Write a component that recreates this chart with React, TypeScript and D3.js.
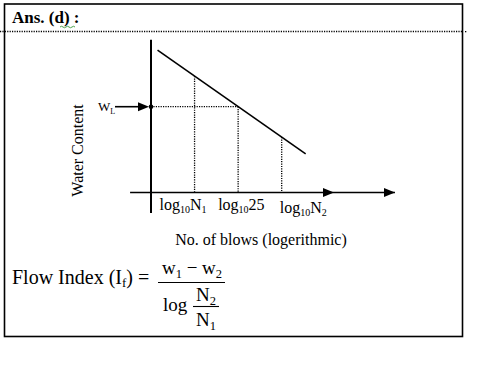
import React from "react";
import * as d3 from "d3";

// positions along the log(N) axis for the three marked blow counts
const tickPositions = [1, 2, 3];
const tickBases = ["N", "25", "N"];
const tickSubs = ["1", "", "2"];

// the flow curve (straight on semi-log paper)
const flowLogN = [0.15, 3.55];
const flowWater = [83, 22.5];

// liquid limit water content (at 25 blows)
const liquidLimit = 50;

// axis extents and arrowheads
const xAxisExtent = [-0.48, 5.6];
const xArrowAt = [4.2, 5.6];
const yAxisExtent = [-12, 89];

const serif = "'Liberation Serif', 'Times New Roman', serif";

export default function App() {
  const x = d3.scaleLinear().domain([0, 3]).range([151, 281.7]);
  const y = d3.scaleLinear().domain([0, liquidLimit]).range([192.5, 106.7]);
  const flow = d3.scaleLinear().domain(flowLogN).range(flowWater);

  const line = d3
    .line<number>()
    .x((d) => x(d))
    .y((d) => y(flow(d)));

  const arrow = (px: number, py: number) =>
    `M${px},${py} L${px - 11},${py - 4.5} L${px - 11},${py + 4.5} Z`;

  // label start offsets relative to each tick
  const labelShift = [-35, -20, -2];
  const labelDrop = [17, 17, 20];

  return (
    <svg
      width={484}
      height={367}
      style={{ position: "absolute", left: 0, top: 0, fontFamily: serif }}
    >
      <rect x={0} y={0} width={484} height={367} fill="#fff" />
      {/* frame */}
      <rect x={4.5} y={4} width={458} height={332.5} fill="none" stroke="#000" strokeWidth={1.6} />
      <line x1={0} x2={463} y1={31.5} y2={31.5} stroke="#000" strokeWidth={1.3} strokeDasharray="1.2,1.2" />
      <rect x={465} y={31} width={1.3} height={1.3} fill="#000" />
      <text x={12} y={23} fontSize={17} fontWeight="bold">Ans. (d) :</text>
      <path d="M60,27 q1.5,-1.5 3,0 t3,0 t3,0 t3,0 t3,0" fill="none" stroke="#3a9a3a" strokeWidth={0.9} />

      {/* axes */}
      <line x1={x(0)} x2={x(0)} y1={y(yAxisExtent[1])} y2={y(yAxisExtent[0])} stroke="#000" strokeWidth={2} />
      <line x1={x(xAxisExtent[0])} x2={x(xAxisExtent[1])} y1={y(0)} y2={y(0)} stroke="#000" strokeWidth={1.6} />
      {xArrowAt.map((a, i) => (
        <path key={i} d={arrow(x(a), y(0))} fill="#000" />
      ))}

      {/* flow line */}
      <path d={line(flowLogN) || ""} fill="none" stroke="#000" strokeWidth={1.6} />

      {/* dotted drops */}
      {tickPositions.map((t, i) => (
        <line
          key={i}
          x1={x(t)}
          x2={x(t)}
          y1={y(flow(t))}
          y2={y(0)}
          stroke="#000"
          strokeWidth={1.3}
          strokeDasharray="1.2,1.2"
        />
      ))}
      <line
        x1={x(0)}
        x2={x(2)}
        y1={y(liquidLimit)}
        y2={y(liquidLimit)}
        stroke="#000"
        strokeWidth={1.3}
        strokeDasharray="1.2,1.2"
      />
      <circle cx={x(0)} cy={y(liquidLimit)} r={2.3} fill="#000" />

      {/* w_L pointer */}
      <line x1={x(0) - 36} x2={x(0) - 10} y1={y(liquidLimit)} y2={y(liquidLimit)} stroke="#000" strokeWidth={1.6} />
      <path d={arrow(x(0) - 2, y(liquidLimit))} fill="#000" />
      <text x={98} y={y(liquidLimit) + 4} fontSize={13}>
        W<tspan fontSize={8} dy={3}>L</tspan>
      </text>

      {/* tick labels */}
      {tickPositions.map((t, i) => (
        <text key={i} x={x(t) + labelShift[i]} y={y(0) + labelDrop[i]} fontSize={16}>
          log<tspan fontSize={10} dy={3}>10</tspan>
          <tspan dy={-3}>{tickBases[i]}</tspan>
          {tickSubs[i] && (
            <tspan fontSize={10} dy={3}>{tickSubs[i]}</tspan>
          )}
        </text>
      ))}

      <text x={261} y={245} fontSize={16} textAnchor="middle">No. of blows (logerithmic)</text>
      <text
        transform={`translate(83,${y(24.5)}) rotate(-90)`}
        fontSize={16}
        textAnchor="middle"
      >
        Water Content
      </text>

      {/* flow index formula */}
      <text x={12} y={284} fontSize={20}>
        Flow Index (I<tspan fontSize={13} dy={3}>f</tspan>
        <tspan dy={-3}>) =</tspan>
      </text>
      <text x={192} y={274} fontSize={19} textAnchor="middle">
        w<tspan fontSize={12.5} dy={4}>1</tspan>
        <tspan dy={-4}> − w</tspan>
        <tspan fontSize={12.5} dy={4}>2</tspan>
      </text>
      <line x1={158} x2={225} y1={282.5} y2={282.5} stroke="#000" strokeWidth={1.1} />
      <text x={163} y={311} fontSize={19}>log</text>
      <text x={206} y={301} fontSize={19} textAnchor="middle">
        N<tspan fontSize={12.5} dy={4}>2</tspan>
      </text>
      <line x1={193} x2={219} y1={306.5} y2={306.5} stroke="#000" strokeWidth={1.1} />
      <text x={206} y={326} fontSize={19} textAnchor="middle">
        N<tspan fontSize={12.5} dy={4}>1</tspan>
      </text>
    </svg>
  );
}
